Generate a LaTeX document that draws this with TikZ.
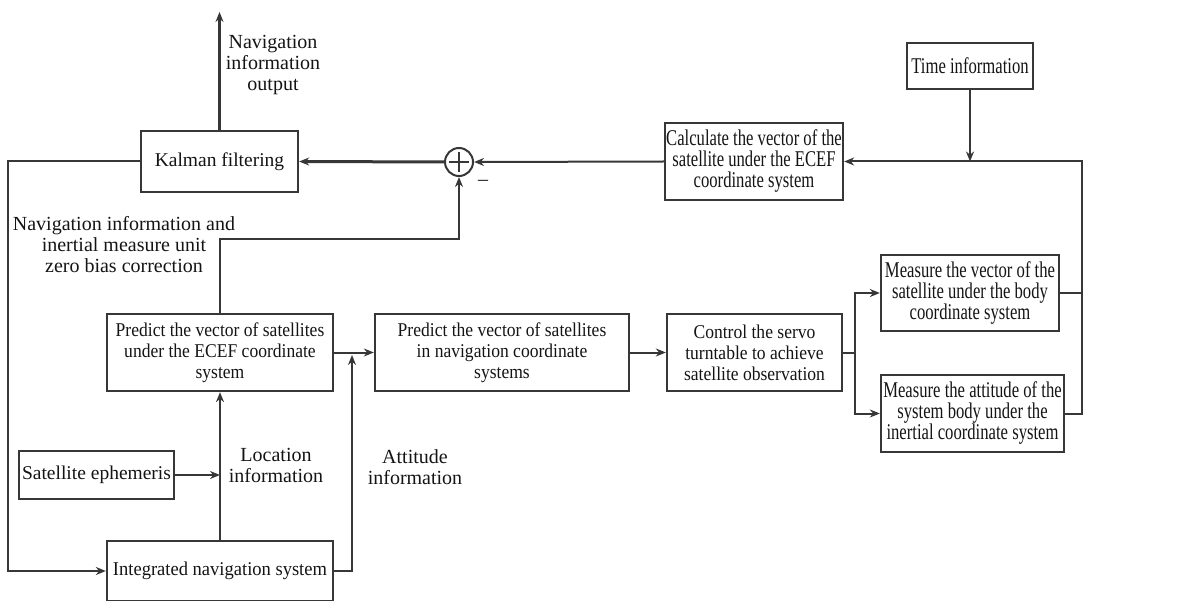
\documentclass[tikz,border=0pt]{standalone}
\usepackage{fontspec}
\setmainfont{Liberation Serif}
\newfontfamily\midfont{Liberation Serif}[FakeStretch=0.95]
\newfontfamily\narrowfont{Liberation Serif}[FakeStretch=0.9]
\newfontfamily\tightfont{Liberation Serif}[FakeStretch=0.74]
\usetikzlibrary{arrows.meta, positioning, calc}
\definecolor{linegray}{RGB}{55,55,55}
\definecolor{textdark}{RGB}{20,20,20}

\begin{document}
\begin{tikzpicture}[x=1pt, y=-1pt,
  block/.style={draw=linegray, line width=2.3pt, inner sep=0pt, align=center, text=textdark, font=\fontsize{19.5}{21}\selectfont},
  nblock/.style={block, font=\fontsize{19.5}{21}\narrowfont},
  tblock/.style={block, font=\fontsize{22.5}{21}\tightfont},
  lbl/.style={inner sep=0pt, align=center, text=textdark, font=\fontsize{20}{21}\selectfont},
  arr/.style={draw=linegray, line width=2pt, -{Stealth[length=10pt,width=8pt]}},
  line/.style={draw=linegray, line width=2pt},
]
  \useasboundingbox (0,0) rectangle (1185,601);

  % Top row
  \node[block, minimum width=157, minimum height=61] (kalman) at (219.5,161.5) {Kalman filtering};
  \node[draw=linegray, line width=2pt, circle, minimum size=28, inner sep=0pt] (sum) at (459,162) {};
  \draw[line] ($(sum.center)+(-10,0)$) -- ($(sum.center)+(10,0)$);
  \draw[line] ($(sum.center)+(0,-10)$) -- ($(sum.center)+(0,10)$);
  \node[lbl] (minus) at (483,183) {\textendash};
  \node[tblock, minimum width=178, minimum height=77] (calc) at (754,161.5) {Calculate the vector of the\\satellite under the ECEF\\coordinate system};
  \node[tblock, minimum width=126, minimum height=46] (time) at (970,66) {Time information};

  % Middle row
  \node[nblock, minimum width=226, minimum height=77] (predecef) at (220,352.5) {Predict the vector of satellites\\under the ECEF coordinate\\system};
  \node[nblock, minimum width=254, minimum height=77] (prednav) at (502,352.5) {Predict the vector of satellites\\in navigation coordinate\\systems};
  \node[nblock, minimum width=175, minimum height=77] (control) at (754.5,352.5) {Control the servo\\turntable to achieve\\satellite observation};
  \node[tblock, minimum width=178, minimum height=76] (meas1) at (970,293) {Measure the vector of the\\satellite under the body\\coordinate system};
  \node[tblock, minimum width=183, minimum height=77] (meas2) at (972.5,413.5) {Measure the attitude of the\\system body under the\\inertial coordinate system};

  % Bottom row
  \node[block, minimum width=155, minimum height=48] (ephem) at (96.5,475) {Satellite ephemeris};
  \node[block, minimum width=226, minimum height=60, font=\fontsize{19.5}{21}\midfont] (integ) at (220,571) {Integrated navigation system};

  % Labels
  \node[lbl] (outlbl) at (273,65) {Navigation\\information\\output};
  \node[lbl] (corrlbl) at (124,245) {Navigation information and\\inertial measure unit\\zero bias correction};
  \node[lbl] (loclbl) at (276,465) {Location\\information};
  \node[lbl] (attlbl) at (415,467) {Attitude\\information};

  % Bend points
  \coordinate (outtip) at (219.5,12);
  \coordinate (fbx) at (8,161.5);
  \coordinate (tj) at (970,161.5);
  \coordinate (rbus) at (1082,161.5);
  \coordinate (split) at (855,352.5);
  \coordinate (attx) at (352,355);
  \coordinate (corrbend) at (220,239);

  % Connectors
  \draw[arr, line width=3pt] (kalman.north) -- (outtip);
  \draw[arr, line width=3pt] (sum.west) -- (kalman.east);
  \draw[arr] (calc.west) -- (sum.east);
  \draw[arr] (time.south) -- (tj);
  \draw[arr] (meas2.east) -| (rbus) -- (calc.east);
  \draw[line] (meas1.east) -- (meas1.east -| rbus);
  \draw[arr] (kalman.west) -- (fbx) |- (integ.west);
  \draw[arr] (predecef.north) -- (corrbend) -| (sum.south);
  \draw[arr] (integ.north) -- (predecef.south);
  \draw[arr] (ephem.east) -- (ephem.east -| integ.north);
  \draw[arr] (integ.east) -| (attx);
  \draw[arr] (predecef.east) -- (prednav.west);
  \draw[arr] (prednav.east) -- (control.west);
  \draw[line] (control.east) -- (split);
  \draw[arr] (split) |- (meas1.west);
  \draw[arr] (split) |- (meas2.west);
\end{tikzpicture}
\end{document}
